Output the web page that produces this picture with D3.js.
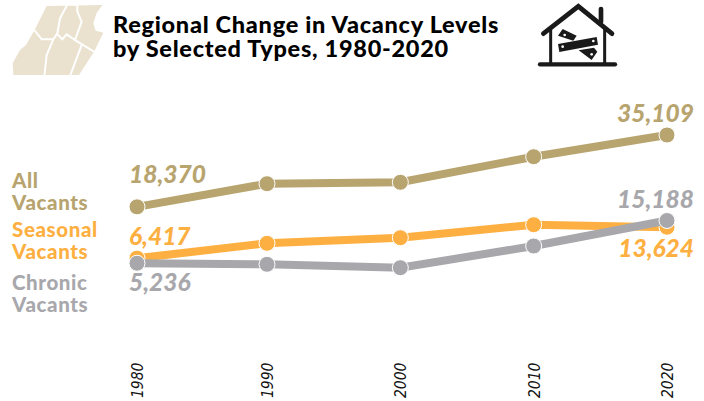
<!DOCTYPE html>
<html><head><meta charset="utf-8">
<script src="https://cdn.jsdelivr.net/npm/d3@7"></script>
<style>html,body{margin:0;padding:0;background:#fff}svg{display:block}</style></head>
<body><div id="chart"></div>
<script>
const years = [1980, 1990, 2000, 2010, 2020];
const allVacants = [18370, 23762, 24088, 30053, 35109];
const seasonalVacants = [6417, 9875, 11180, 14209, 13624];
const chronicVacants = [5236, 4982, 4190, 9246, 15188];
const seriesNames = ["All Vacants", "Seasonal Vacants", "Chronic Vacants"];
const titleLines = ["Regional Change in Vacancy Levels", "by Selected Types, 1980-2020"];
const colors = ["#b8a46e", "#fdb041", "#a8a8ac"];

const W = 704, H = 401;
const svg = d3.select("#chart").append("svg").attr("width", W).attr("height", H);
const x = d3.scaleLinear().domain([1980, 1990, 2020]).range([137, 267, 667]);
const y = d3.scaleLinear().domain([0, 40000]).range([285.7, 114]);
const FONT = "Lato, 'Open Sans', sans-serif";

// Map decoration (drawn in 3x coordinates)
const map = svg.append("g").attr("transform", "scale(0.3333)");
map.append("path").attr("fill", "#eae2cf")
  .attr("d", "M140,18 L308,15 L290,38 L280,70 L287,92 L310,98 L282,155 L237,225 L40,225 L38,190 L60,150 L78,135 L105,88 Z");
map.append("path").attr("fill", "none").attr("stroke", "#fff").attr("stroke-width", 6)
  .attr("d", "M203,12 L180,55 L172,100 L160,118 L125,118 L103,90 M232,12 L232,35 L245,65 L225,120 L282,155 M172,103 L187,118 L200,103 L225,120 M160,118 L140,165 L133,228 M245,135 L210,228");
map.append("path").attr("fill", "#fff").attr("d", "M200,0 L240,0 L232,18 L205,16 Z");

// Title
svg.append("g").selectAll("text").data(titleLines).join("text")
  .attr("x", 113).attr("y", (d, i) => 33 + i * 24)
  .attr("font-family", FONT).attr("font-weight", 900).attr("font-size", 23.5)
  .attr("letter-spacing", 0.72)
  .attr("fill", "#000").text(d => d);

// House icon (drawn in 3x coordinates)
const icon = svg.append("g").attr("transform", "translate(530,5) scale(0.3333)");
const ink = "#1a1a1a";
const house = icon.append("g").attr("fill", "none").attr("stroke", ink).attr("stroke-linecap", "round");
house.append("path").attr("d", "M40,86 L145,4 L246,86").attr("stroke-width", 14);
house.append("path").attr("d", "M213,12 L213,50").attr("stroke-width", 14);
house.append("path").attr("d", "M62,70 L62,175 M224,70 L224,175").attr("stroke-width", 9).attr("stroke-linecap", "butt");
house.append("path").attr("d", "M30,178 L255,178").attr("stroke-width", 13);
icon.append("path").attr("fill", ink).attr("d", "M84,117 L200,96 L204,119 L88,141 Z");
icon.append("path").attr("fill", ink).attr("d", "M84,92 L98,72 L140,92 L130,107 Z");
icon.append("path").attr("fill", ink).attr("d", "M146,136 L192,128 L202,140 L185,165 Z");
icon.append("g").attr("fill", "#fff").selectAll("circle")
  .data([[104,90],[185,148],[98,125],[190,108]]).join("circle")
  .attr("cx", d => d[0]).attr("cy", d => d[1]).attr("r", 4);

// Lines & points
const seriesValues = [allVacants, seasonalVacants, chronicVacants];
const line = d3.line().x((d, i) => x(years[i])).y(d => y(d));
const g = svg.append("g").selectAll("g").data(seriesValues).join("g");
g.append("path").attr("d", d => line(d)).attr("fill", "none")
  .attr("stroke", (d, i) => colors[i]).attr("stroke-width", 8);
g.each(function(vals, si) {
  d3.select(this).selectAll("circle").data(vals).join("circle")
    .attr("cx", (d, i) => x(years[i])).attr("cy", d => y(d)).attr("r", 8)
    .attr("fill", colors[si]).attr("stroke", "#fff").attr("stroke-width", 1);
});

// Value labels
const valueLabels = [
 {s: 0, i: 0, a: "start", dx: -8, dy: -24},
 {s: 0, i: 4, a: "end", dx: 27, dy: -13},
 {s: 1, i: 0, a: "start", dx: -8, dy: -13},
 {s: 1, i: 4, a: "end", dx: 27, dy: 30},
 {s: 2, i: 0, a: "start", dx: -8, dy: 28},
 {s: 2, i: 4, a: "end", dx: 27, dy: -13}
];
svg.append("g").selectAll("text").data(valueLabels).join("text")
  .attr("x", d => x(years[d.i]) + d.dx)
  .attr("y", d => y(seriesValues[d.s][d.i]) + d.dy)
  .attr("text-anchor", d => d.a)
  .attr("font-family", FONT).attr("font-weight", 900).attr("font-style", "italic").attr("font-size", 24.5)
  .attr("fill", d => colors[d.s])
  .text(d => d3.format(",")(seriesValues[d.s][d.i]));

// Series labels
seriesNames.forEach((n, i) => {
  const parts = n.split(" ");
  const top = [187.5, 237, 290][i];
  svg.append("g").selectAll("text").data(parts).join("text")
    .attr("x", 12).attr("y", (d, j) => top + j * 22)
    .attr("font-family", FONT).attr("font-weight", 900).attr("font-size", 20.5)
    .attr("letter-spacing", 0.6)
    .attr("fill", colors[i]).text(d => d);
});

// X axis
const axis = d3.axisBottom(x).tickValues(years).tickFormat(d3.format("d")).tickSize(0).tickPadding(0);
const ax = svg.append("g").attr("transform", "translate(0,360)").call(axis);
ax.select(".domain").remove();
ax.selectAll("text").attr("transform", "rotate(-90)")
  .attr("x", -38).attr("y", 0).attr("dy", "0.35em")
  .attr("text-anchor", "start")
  .attr("font-family", "'DejaVu Sans'").style("font-stretch", "condensed")
  .attr("font-style", "italic").attr("font-size", 15.5)
  .attr("fill", "#111");
</script></body></html>
